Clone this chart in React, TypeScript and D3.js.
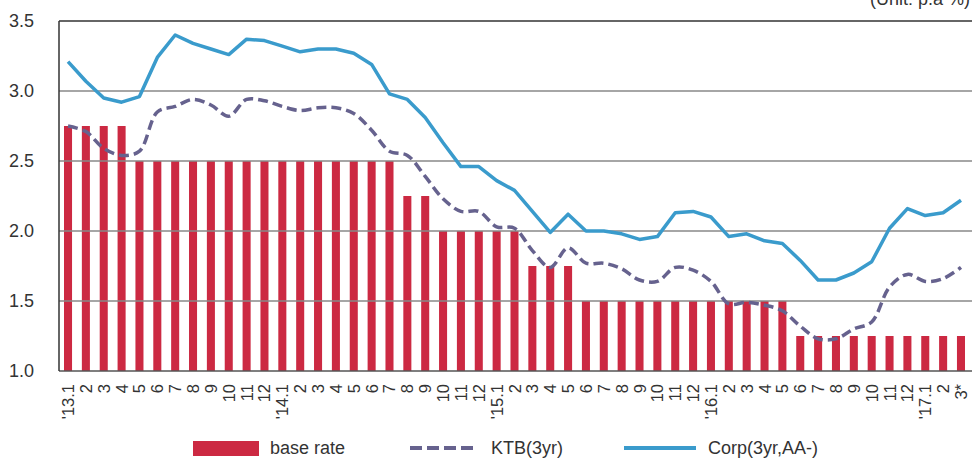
import React from "react";
import * as d3 from "d3";

const months = [
  "'13.1", "2", "3", "4", "5", "6", "7", "8", "9", "10", "11", "12",
  "'14.1", "2", "3", "4", "5", "6", "7", "8", "9", "10", "11", "12",
  "'15.1", "2", "3", "4", "5", "6", "7", "8", "9", "10", "11", "12",
  "'16.1", "2", "3", "4", "5", "6", "7", "8", "9", "10", "11", "12",
  "'17.1", "2", "3*",
];

const baseRate = [
  2.75, 2.75, 2.75, 2.75, 2.5, 2.5, 2.5, 2.5, 2.5, 2.5, 2.5, 2.5,
  2.5, 2.5, 2.5, 2.5, 2.5, 2.5, 2.5, 2.25, 2.25, 2.0, 2.0, 2.0,
  2.0, 2.0, 1.75, 1.75, 1.75, 1.5, 1.5, 1.5, 1.5, 1.5, 1.5, 1.5,
  1.5, 1.5, 1.5, 1.5, 1.5, 1.25, 1.25, 1.25, 1.25, 1.25, 1.25, 1.25,
  1.25, 1.25, 1.25,
];

const ktb = [
  2.75, 2.71, 2.59, 2.54, 2.57, 2.85, 2.89, 2.94, 2.9, 2.82, 2.94, 2.93,
  2.89, 2.86, 2.88, 2.88, 2.84, 2.72, 2.57, 2.54, 2.39, 2.23, 2.14, 2.14,
  2.03, 2.02, 1.86, 1.74, 1.88, 1.77, 1.77, 1.73, 1.65, 1.64, 1.74, 1.72,
  1.64, 1.48, 1.49, 1.47, 1.43, 1.32, 1.23, 1.23, 1.3, 1.35, 1.6, 1.69,
  1.64, 1.66, 1.74,
];

const corp = [
  3.21, 3.07, 2.95, 2.92, 2.96, 3.24, 3.4, 3.34, 3.3, 3.26, 3.37, 3.36,
  3.32, 3.28, 3.3, 3.3, 3.27, 3.19, 2.98, 2.94, 2.81, 2.63, 2.46, 2.46,
  2.36, 2.29, 2.14, 1.99, 2.12, 2.0, 2.0, 1.98, 1.94, 1.96, 2.13, 2.14,
  2.1, 1.96, 1.98, 1.93, 1.91, 1.79, 1.65, 1.65, 1.7, 1.78, 2.02, 2.16,
  2.11, 2.13, 2.22,
];

const yTicks = [1.0, 1.5, 2.0, 2.5, 3.0, 3.5];

const W = 972;
const H = 458;
const left = 59;
const right = 970;
const top = 21;
const bottom = 371;

const RED = "#CC2942";
const BLUE = "#3A9BCC";
const PURPLE = "#66628E";
const FONT = "'Liberation Sans', Arial, sans-serif";

export default function App() {
  const x = d3.scaleBand<string>()
    .domain(months.map((m, i) => String(i)))
    .range([left, right])
    .paddingInner(0.55)
    .paddingOuter(0.28);
  const y = d3.scaleLinear().domain([1, 3.5]).range([bottom, top]);
  const cx = (i: number) => (x(String(i)) as number) + x.bandwidth() / 2;

  const corpLine = d3.line<number>()
    .x((d, i) => cx(i))
    .y((d) => y(d));
  const ktbLine = d3.line<number>()
    .x((d, i) => cx(i))
    .y((d) => y(d))
    .curve(d3.curveCatmullRom.alpha(0.5));

  return (
    <svg width={W} height={H} style={{ position: "absolute", left: 0, top: 0 }} fontFamily={FONT}>
      <text x={970} y={5} textAnchor="end" fontSize={18} fill="#333">(Unit: p.a %)</text>

      {/* bars */}
      {baseRate.map((v, i) => (
        <rect key={i} x={x(String(i))} y={y(v)} width={x.bandwidth()} height={y(1) - y(v)} fill={RED} />
      ))}

      {/* grid */}
      {yTicks.map((t) => (
        <g key={t}>
          <line x1={left} x2={W} y1={y(t)} y2={y(t)}
            stroke={t === 3.5 ? "#333" : t === 1 ? "#555" : "#888"} strokeWidth={t === 3.5 ? 1.5 : 1.3} />
          <text x={34} y={y(t) + 6} textAnchor="end" fontSize={18} fill="#333">{t.toFixed(1)}</text>
        </g>
      ))}
      <line x1={left} x2={left} y1={top} y2={bottom} stroke="#333" strokeWidth={1.5} />

      <path d={ktbLine(ktb) || ""} fill="none" stroke={PURPLE} strokeWidth={3.5} strokeDasharray="10 5" />
      <path d={corpLine(corp) || ""} fill="none" stroke={BLUE} strokeWidth={3.5} strokeLinejoin="round" />

      {/* x labels */}
      {months.map((m, i) => (
        <text key={i} transform={`translate(${cx(i) + 6},${384}) rotate(-90)`} textAnchor="end"
          fontSize={16.5} fill="#333">{m}</text>
      ))}

      {/* legend */}
      <rect x={193} y={441} width={66} height={15} fill={RED} />
      <text x={270} y={454} fontSize={18} fill="#333">base rate</text>
      <line x1={410} x2={477} y1={448} y2={448} stroke={PURPLE} strokeWidth={4} strokeDasharray="12 5" />
      <text x={491} y={454} fontSize={18} fill="#333">KTB(3yr)</text>
      <line x1={624} x2={696} y1={448} y2={448} stroke={BLUE} strokeWidth={4} />
      <text x={708} y={454} fontSize={18} fill="#333">Corp(3yr,AA-)</text>
    </svg>
  );
}
